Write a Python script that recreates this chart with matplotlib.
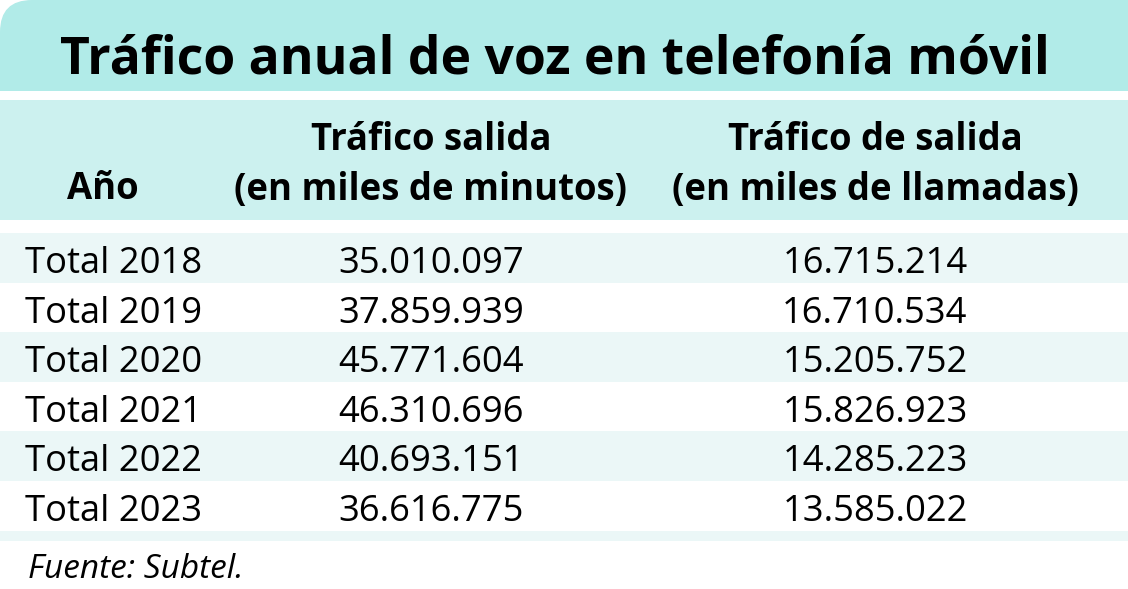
import matplotlib.pyplot as plt
from matplotlib.patches import Rectangle, FancyBboxPatch

# datos
titulo = "Tráfico anual de voz en telefonía móvil"
col_anio = "Año"
col_minutos = ["Tráfico salida", "(en miles de minutos)"]
col_llamadas = ["Tráfico de salida", "(en miles de llamadas)"]
anios = ["Total 2018", "Total 2019", "Total 2020", "Total 2021", "Total 2022", "Total 2023"]
minutos = ["35.010.097", "37.859.939", "45.771.604", "46.310.696", "40.693.151", "36.616.775"]
llamadas = ["16.715.214", "16.710.534", "15.205.752", "15.826.923", "14.285.223", "13.585.022"]
fuente = "Fuente: Subtel."

W, H = 1128, 589
fam = ["Open Sans", "DejaVu Sans"]
c_titulo = "#b1ebe8"
c_cabecera = "#ccf1ef"
c_fila = "#ebf7f7"

fig = plt.figure(figsize=(W / 100, H / 100), dpi=100)
ax = fig.add_axes([0, 0, 1, 1])
ax.set_xlim(0, W)
ax.set_ylim(H, 0)
ax.axis("off")

# banda del título con esquina redondeada arriba a la izquierda
ax.add_patch(FancyBboxPatch((0, 0), W + 60, 91 + 60,
                            boxstyle="round,pad=0,rounding_size=32",
                            fc=c_titulo, ec="none"))
ax.add_patch(Rectangle((0, 91), W, 60, fc="white", ec="none"))
ax.text(555, 73, titulo, ha="center", va="baseline", fontsize=37.2,
        fontweight="bold", family=fam)

# cabecera
ax.add_patch(Rectangle((0, 100), W, 120, fc=c_cabecera, ec="none"))
x1, x2, x3 = 67, 431, 875
ax.text(x1, 199, col_anio, ha="left", va="baseline", fontsize=26.3,
        fontweight="bold", family=fam)
for k, (a, b) in enumerate(zip(col_minutos, col_llamadas)):
    y = 150 + k * 50
    ax.text(x2, y, a, ha="center", va="baseline", fontsize=26.3,
            fontweight="bold", family=fam)
    ax.text(x3, y, b, ha="center", va="baseline", fontsize=26.3,
            fontweight="bold", family=fam)

# filas
top, rh = 233, 49.6
for i, (a, m, l) in enumerate(zip(anios, minutos, llamadas)):
    y0 = top + i * rh
    if i % 2 == 0:
        ax.add_patch(Rectangle((0, y0), W, rh, fc=c_fila, ec="none"))
    yb = y0 + 40
    ax.text(25, yb, a, ha="left", va="baseline", fontsize=26.2, family=fam)
    ax.text(x2, yb, m, ha="center", va="baseline", fontsize=26.2, family=fam)
    ax.text(x3, yb, l, ha="center", va="baseline", fontsize=26.2, family=fam)
y_fin = top + len(anios) * rh
ax.add_patch(Rectangle((0, y_fin), W, 10, fc=c_fila, ec="none"))

ax.text(28, 578, fuente, ha="left", va="baseline", fontsize=24,
        style="italic", family=fam)

fig.savefig("out.png", dpi=100)
